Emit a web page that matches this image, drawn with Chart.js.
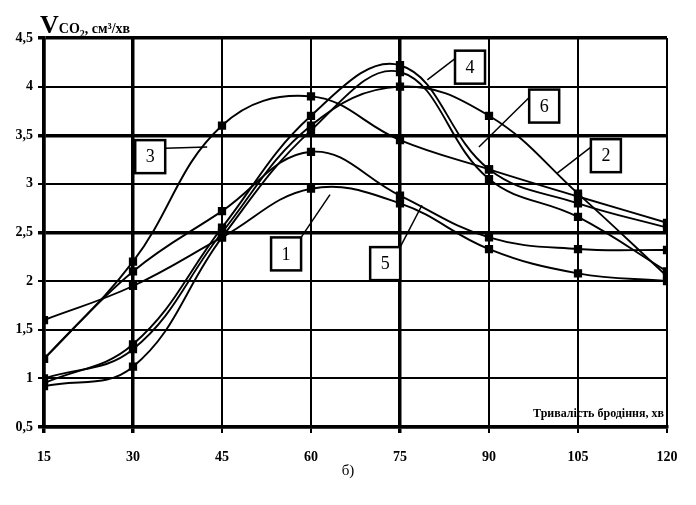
<!DOCTYPE html>
<html>
<head>
<meta charset="utf-8">
<script src="https://cdn.jsdelivr.net/npm/chart.js@4"></script>
<style>
  html, body { margin: 0; padding: 0; background: #fff; }
  #wrap { width: 696px; height: 505px; position: relative; }
</style>
</head>
<body>
<div id="wrap"><canvas id="graph-canvas"></canvas></div>
<script>
// тривалість бродіння, хв
const minutes = [15, 30, 45, 60, 75, 90, 105, 120]
const yTicks = [0.5, 1, 1.5, 2, 2.5, 3, 3.5, 4, 4.5]

// V CO2, см3/хв for every curve
const curve1 = [1.6, 1.95, 2.45, 2.95, 2.8, 2.33, 2.08, 2.0]
const curve2 = [1.0, 1.3, 2.5, 3.6, 4.0, 3.7, 2.9, 2.05]
const curve3 = [1.2, 2.2, 3.6, 3.9, 3.45, 3.15, 2.87, 2.6]
const curve4 = [0.95, 1.35, 2.55, 3.7, 4.22, 3.15, 2.8, 2.55]
const curve5 = [1.2, 2.1, 2.72, 3.33, 2.88, 2.45, 2.33, 2.32]
const curve6 = [0.92, 1.12, 2.45, 3.55, 4.15, 3.05, 2.66, 2.1]

// numbered boxes: [label, box x, box y, leader end x, leader end y]
const callouts = [
    ['3', 32.9, 3.28, 42.5, 3.38],
    ['1', 55.8, 2.28, 63.2, 2.89],
    ['5', 72.5, 2.18, 78.7, 2.78],
    ['4', 86.8, 4.2, 79.6, 4.07],
    ['6', 99.3, 3.8, 88.3, 3.38],
    ['2', 109.7, 3.29, 101.5, 3.11]
]

const serif = '"Liberation Serif", "DejaVu Serif", serif'

toPoints = (arr) => arr.map((v, i) => ({ x: minutes[i], y: v }))

makeSet = (name, arr) => ({
    label: name,
    data: toPoints(arr),
    borderColor: '#000',
    backgroundColor: '#000',
    borderWidth: 1.9,
    pointStyle: 'rect',
    pointRadius: 4.5,
    pointHoverRadius: 4.5,
    tension: 0.4,
    fill: false
})

const calloutPlugin = {
    id: 'callouts',
    afterDatasetsDraw(chart) {
        const ctx = chart.ctx
        const xs = chart.scales.x, ys = chart.scales.y
        ctx.save()
        callouts.forEach(c => {
            const bx = xs.getPixelForValue(c[1]), by = ys.getPixelForValue(c[2])
            const lx = xs.getPixelForValue(c[3]), ly = ys.getPixelForValue(c[4])
            const w = 30, h = 33
            let sx = lx > bx ? bx + w / 2 : bx - w / 2
            let sy = by - h / 2 + 8
            if (c[0] == '1' || c[0] == '5') { sx = bx + w / 2; sy = by - h / 2 }
            ctx.strokeStyle = '#000'
            ctx.lineWidth = 1.5
            ctx.beginPath()
            ctx.moveTo(sx, sy)
            ctx.lineTo(lx, ly)
            ctx.stroke()
            ctx.fillStyle = '#fff'
            ctx.fillRect(bx - w / 2, by - h / 2, w, h)
            ctx.lineWidth = 2.5
            ctx.strokeRect(bx - w / 2, by - h / 2, w, h)
            ctx.fillStyle = '#000'
            ctx.font = '18px ' + serif
            ctx.textAlign = 'center'
            ctx.textBaseline = 'middle'
            ctx.fillText(c[0], bx, by + 1)
        })
        ctx.restore()
    },
    afterDraw(chart) {
        const ctx = chart.ctx
        const a = chart.chartArea
        ctx.save()
        ctx.fillStyle = '#000'
        ctx.textBaseline = 'alphabetic'
        ctx.textAlign = 'left'
        // y axis title
        ctx.font = 'bold 26px ' + serif
        ctx.fillText('V', 40, 33)
        let x = 40 + ctx.measureText('V').width
        ctx.font = 'bold 14px ' + serif
        ctx.fillText('CO', x, 33)
        x += ctx.measureText('CO').width
        ctx.font = 'bold 10px ' + serif
        ctx.fillText('2', x, 37)
        x += ctx.measureText('2').width
        ctx.font = 'bold 14px ' + serif
        ctx.fillText(', см³/хв', x, 33)
        // x axis title inside plot
        ctx.font = 'bold 12px ' + serif
        ctx.textAlign = 'right'
        ctx.fillText('Тривалість бродіння, хв', a.right - 3, a.bottom - 10)
        // caption
        ctx.font = '15px ' + serif
        ctx.textAlign = 'center'
        ctx.fillText('б)', 348, 475)
        ctx.restore()
    }
}

createChart = () => {
    const thickX = [15, 30, 75]
    const thickY = [0.5, 2.5, 3.5, 4.5]
    new Chart(document.getElementById('graph-canvas'), {
        type: 'line',
        data: {
            datasets: [
                makeSet('1', curve1), makeSet('2', curve2), makeSet('3', curve3),
                makeSet('4', curve4), makeSet('5', curve5), makeSet('6', curve6)
            ]
        },
        options: {
            responsive: true,
            maintainAspectRatio: false,
            animation: false,
            layout: { padding: { left: 0, right: 29, top: 38, bottom: 38 } },
            plugins: { legend: { display: false }, tooltip: { enabled: false } },
            scales: {
                x: {
                    type: 'linear',
                    min: 15, max: 120,
                    afterBuildTicks: (s) => { s.ticks = minutes.map(v => ({ value: v })) },
                    afterFit: (s) => { s.height = 40 },
                    border: { display: true, color: '#000', width: 3.5 },
                    grid: {
                        color: '#000',
                        lineWidth: (c) => thickX.includes(c.tick && c.tick.value) ? 3.5 : 2,
                        tickLength: 6
                    },
                    ticks: {
                        color: '#000',
                        padding: 16,
                        font: { family: serif, size: 14, weight: 'bold' }
                    }
                },
                y: {
                    min: 0.5, max: 4.5,
                    afterBuildTicks: (s) => { s.ticks = yTicks.map(v => ({ value: v })) },
                    afterFit: (s) => { s.width = 44 },
                    border: { display: true, color: '#000', width: 3.5 },
                    grid: {
                        color: '#000',
                        lineWidth: (c) => thickY.includes(c.tick && c.tick.value) ? 3.5 : 2,
                        tickLength: 6
                    },
                    ticks: {
                        color: '#000',
                        padding: 5,
                        font: { family: serif, size: 14, weight: 'bold' },
                        callback: (v) => String(v).replace('.', ',')
                    }
                }
            }
        },
        plugins: [calloutPlugin]
    })
}

createChart()
</script>
</body>
</html>
